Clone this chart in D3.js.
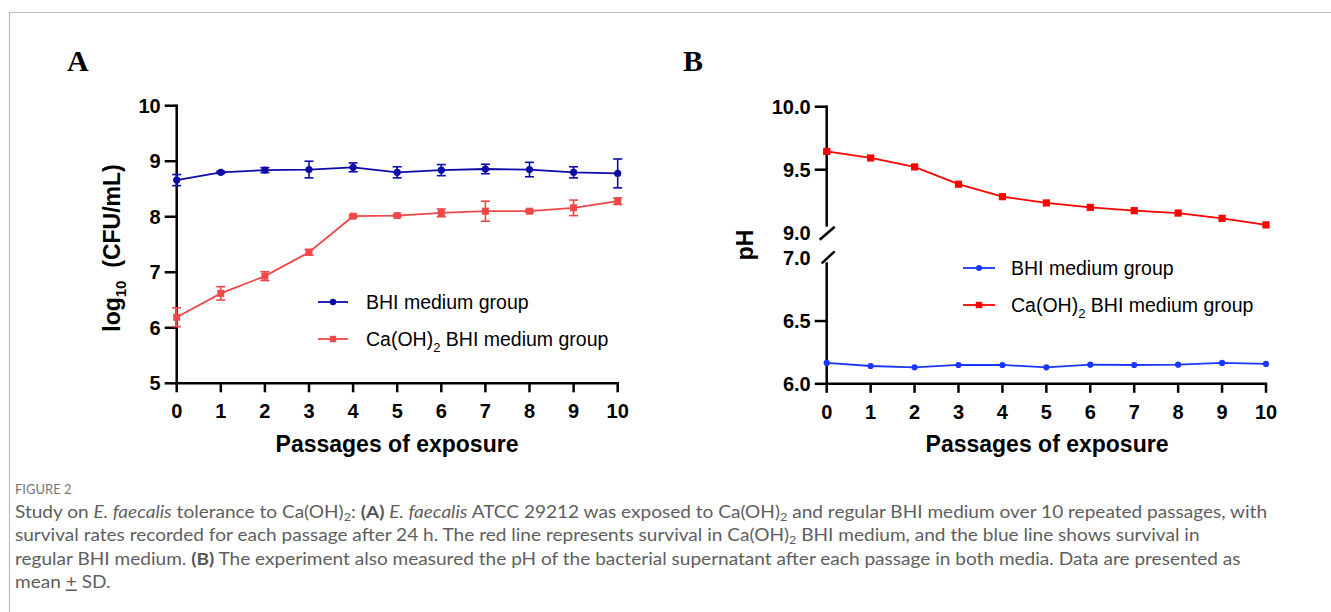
<!DOCTYPE html>
<html>
<head>
<meta charset="utf-8">
<script src="https://cdn.jsdelivr.net/npm/d3@7"></script>
<style>
  html, body { margin: 0; padding: 0; background: #fff; }
  svg { display: block; }
  .tick-label { font-family: "Liberation Sans", Arial, sans-serif; font-weight: bold; font-size: 20px; fill: #000; }
  .axis-title { font-family: "Liberation Sans", Arial, sans-serif; font-weight: bold; font-size: 23px; fill: #000; }
  .legend-text { font-family: "Liberation Sans", Arial, sans-serif; font-size: 19.5px; fill: #000; }
  .panel-title { font-family: "Liberation Serif", "Times New Roman", serif; font-weight: bold; font-size: 30px; fill: #000; }
  .caption { font-family: Lato, "Open Sans", sans-serif; font-size: 16.5px; fill: #5e5e5e; }
  .fig-label { font-family: Lato, "Open Sans", sans-serif; font-size: 13px; fill: #777; }
</style>
</head>
<body>
<svg id="chart" width="1331" height="612"></svg>
<script>
// ---------------- data ----------------
const passages = [0, 1, 2, 3, 4, 5, 6, 7, 8, 9, 10];
const xTickLabels = ["0", "1", "2", "3", "4", "5", "6", "7", "8", "9", "10"];

// Panel A: log10 CFU/mL (mean, SD)
const aBhiMean = [8.66, 8.80, 8.84, 8.85, 8.89, 8.80, 8.84, 8.86, 8.85, 8.80, 8.78];
const aBhiSD   = [0.10, 0.02, 0.045, 0.15, 0.08, 0.10, 0.10, 0.085, 0.13, 0.10, 0.26];
const aCaMean  = [6.19, 6.62, 6.93, 7.36, 8.01, 8.02, 8.07, 8.10, 8.10, 8.16, 8.28];
const aCaSD    = [0.17, 0.12, 0.08, 0.05, 0.02, 0.02, 0.07, 0.18, 0.02, 0.14, 0.06];
const aYTicks  = [5, 6, 7, 8, 9, 10];

// Panel B: pH
const bBhiPH = [6.166, 6.142, 6.131, 6.150, 6.150, 6.131, 6.152, 6.150, 6.152, 6.166, 6.158];
const bCaPH  = [9.645, 9.593, 9.522, 9.385, 9.286, 9.236, 9.201, 9.175, 9.156, 9.114, 9.062];
const bYTicksUpper = [9.0, 9.5, 10.0];
const bYTicksLower = [6.0, 6.5, 7.0];

const legendLabels = ["BHI medium group", "Ca(OH)2 BHI medium group"];

// caption (segments: text, style)
const figureLabel = "FIGURE 2";
const captionLines = [
  [["Study on ", ""], ["E. faecalis", "i"], [" tolerance to Ca(OH)", ""], ["2", "sub"], [": ", ""], ["(A)", "b"], [" ", ""], ["E. faecalis", "i"], [" ATCC 29212 was exposed to Ca(OH)", ""], ["2", "sub"], [" and regular BHI medium over 10 repeated passages, with", ""]],
  [["survival rates recorded for each passage after 24 h. The red line represents survival in Ca(OH)", ""], ["2", "sub"], [" BHI medium, and the blue line shows survival in", ""]],
  [["regular BHI medium. ", ""], ["(B)", "b"], [" The experiment also measured the pH of the bacterial supernatant after each passage in both media. Data are presented as", ""]],
  [["mean ", ""], ["+", "u"], [" SD.", ""]]
];

// ---------------- drawing ----------------
const svg = d3.select("#chart");

// frame
svg.append("path").attr("d", "M9.5,612 V12.5 H1331")
  .attr("fill", "none").attr("stroke", "#bdbdbd").attr("stroke-width", 1.2);

const colA = { bhi: "#0b0ba8", ca: "#f04848" };
const colB = { bhi: "#1a36ff", ca: "#ff0000" };

function drawXAxis(g, x, y0) {
  g.append("line").attr("x1", x(0) - 1.2).attr("x2", x(10) + 1.2)
    .attr("y1", y0).attr("y2", y0).attr("stroke", "#000").attr("stroke-width", 2.5);
  passages.forEach((p, i) => {
    g.append("line").attr("x1", x(p)).attr("x2", x(p)).attr("y1", y0).attr("y2", y0 + 9)
      .attr("stroke", "#000").attr("stroke-width", 2.5);
    g.append("text").attr("class", "tick-label").attr("x", x(p)).attr("y", y0 + 35)
      .attr("text-anchor", "middle").text(xTickLabels[i]);
  });
}

function yTick(g, x0, yy, label, drawTick) {
  if (drawTick) g.append("line").attr("x1", x0 - 12).attr("x2", x0).attr("y1", yy).attr("y2", yy)
    .attr("stroke", "#000").attr("stroke-width", 2.5);
  g.append("text").attr("class", "tick-label").attr("x", x0 - 16).attr("y", yy + 7)
    .attr("text-anchor", "end").text(label);
}

function drawSeries(g, x, y, vals, sds, color, shape, size) {
  const line = d3.line().x((d, i) => x(passages[i])).y(d => y(d));
  g.append("path").datum(vals).attr("d", line).attr("fill", "none")
    .attr("stroke", color).attr("stroke-width", 1.8);
  if (sds) {
    vals.forEach((v, i) => {
      const px = x(passages[i]);
      const t = y(v + sds[i]), b = y(v - sds[i]);
      g.append("line").attr("x1", px).attr("x2", px).attr("y1", t).attr("y2", b)
        .attr("stroke", color).attr("stroke-width", 1.6);
      [t, b].forEach(yy => g.append("line").attr("x1", px - 4.5).attr("x2", px + 4.5)
        .attr("y1", yy).attr("y2", yy).attr("stroke", color).attr("stroke-width", 1.6));
    });
  }
  vals.forEach((v, i) => marker(g, x(passages[i]), y(v), color, shape, size));
}

function marker(g, cx, cy, color, shape, size) {
  if (shape === "circle") {
    g.append("circle").attr("cx", cx).attr("cy", cy).attr("r", size).attr("fill", color);
  } else {
    g.append("rect").attr("x", cx - size).attr("y", cy - size)
      .attr("width", size * 2).attr("height", size * 2).attr("fill", color);
  }
}

function legendEntry(g, x1, x2, yy, color, shape, size, labelIdx, tx) {
  g.append("line").attr("x1", x1).attr("x2", x2).attr("y1", yy).attr("y2", yy)
    .attr("stroke", color).attr("stroke-width", 1.8);
  marker(g, (x1 + x2) / 2, yy, color, shape, size);
  const t = g.append("text").attr("class", "legend-text").attr("x", tx).attr("y", yy + 7);
  if (labelIdx === 1) {
    t.append("tspan").text("Ca(OH)");
    t.append("tspan").attr("font-size", "13px").attr("dy", 6).text("2");
    t.append("tspan").attr("dy", -6).text(" BHI medium group");
  } else {
    t.text(legendLabels[0]);
  }
}

// ---------- Panel A ----------
const gA = svg.append("g");
const xA = d3.scaleLinear().domain([0, 10]).range([176.7, 617.7]);
const yA = d3.scaleLinear().domain([5, 10]).range([383.3, 105.7]);

gA.append("text").attr("class", "panel-title").attr("x", 67).attr("y", 71).text("A");

gA.append("line").attr("x1", xA(0)).attr("x2", xA(0)).attr("y1", yA(10) - 1.2).attr("y2", yA(5))
  .attr("stroke", "#000").attr("stroke-width", 2.5);
aYTicks.forEach(v => yTick(gA, xA(0), yA(v), String(v), true));
drawXAxis(gA, xA, yA(5));

drawSeries(gA, xA, yA, aCaMean, aCaSD, colA.ca, "rect", 3.5);
drawSeries(gA, xA, yA, aBhiMean, aBhiSD, colA.bhi, "circle", 3.6);

legendEntry(gA, 318, 348, 302, colA.bhi, "circle", 3.2, 0, 366);
legendEntry(gA, 318, 348, 339, colA.ca, "rect", 3.2, 1, 366);

const ylabA = gA.append("text").attr("class", "axis-title")
  .attr("transform", "translate(120,248) rotate(-90)").attr("text-anchor", "middle");
ylabA.append("tspan").text("log");
ylabA.append("tspan").attr("font-size", "15px").attr("dy", 6).text("10");
ylabA.append("tspan").attr("dy", -6).text("\u00a0 (CFU/mL)");

gA.append("text").attr("class", "axis-title").attr("x", 397).attr("y", 452)
  .attr("text-anchor", "middle").text("Passages of exposure");

// ---------- Panel B ----------
const gB = svg.append("g");
const xB = d3.scaleLinear().domain([0, 10]).range([826.7, 1266]);
const yBu = d3.scaleLinear().domain([9, 10]).range([232.7, 106.7]);
const yBl = d3.scaleLinear().domain([6, 7]).range([383.8, 258.3]);

gB.append("text").attr("class", "panel-title").attr("x", 683).attr("y", 71).text("B");

// broken y-axis
gB.append("line").attr("x1", xB(0)).attr("x2", xB(0)).attr("y1", yBu(10) - 1.2).attr("y2", yBu(9) - 6)
  .attr("stroke", "#000").attr("stroke-width", 2.5);
gB.append("line").attr("x1", xB(0)).attr("x2", xB(0)).attr("y1", yBl(7) + 4).attr("y2", yBl(6))
  .attr("stroke", "#000").attr("stroke-width", 2.5);
// break marks
gB.append("line").attr("x1", xB(0) - 7).attr("x2", xB(0) + 8).attr("y1", yBu(9) + 7).attr("y2", yBu(9) - 6)
  .attr("stroke", "#000").attr("stroke-width", 2.5);
gB.append("line").attr("x1", xB(0) - 5).attr("x2", xB(0) + 8).attr("y1", yBl(7) + 5).attr("y2", yBl(7) - 7)
  .attr("stroke", "#000").attr("stroke-width", 2.5);

bYTicksUpper.forEach(v => yTick(gB, xB(0), yBu(v), v.toFixed(1), v !== 9));
bYTicksLower.forEach(v => yTick(gB, xB(0), yBl(v), v.toFixed(1), v !== 7));
drawXAxis(gB, xB, yBl(6));

drawSeries(gB, xB, yBu, bCaPH, null, colB.ca, "rect", 3.6);
drawSeries(gB, xB, yBl, bBhiPH, null, colB.bhi, "circle", 3.1);

legendEntry(gB, 963, 995, 268, colB.bhi, "circle", 3.0, 0, 1011);
legendEntry(gB, 963, 995, 305, colB.ca, "rect", 3.2, 1, 1011);

gB.append("text").attr("class", "axis-title")
  .attr("transform", "translate(753,245) rotate(-90)").attr("text-anchor", "middle").text("pH");

gB.append("text").attr("class", "axis-title").attr("x", 1047).attr("y", 452)
  .attr("text-anchor", "middle").text("Passages of exposure");

// ---------- Caption ----------
svg.append("text").attr("class", "fig-label").attr("x", 15).attr("y", 494).text(figureLabel);

const capG = svg.append("g");
const baselines = [518, 541.5, 565, 588.5];
const capTexts = captionLines.map((segs, li) => {
  const t = capG.append("text").attr("class", "caption").attr("x", 0).attr("y", baselines[li]);
  segs.forEach(([txt, st]) => {
    const s = t.append("tspan").text(txt);
    if (st === "i") s.attr("font-style", "italic");
    if (st === "b") s.attr("font-weight", "bold").attr("fill", "#555");
    if (st === "sub") { s.attr("font-size", "11px").attr("dy", 3); }
    if (st === "u") s.attr("text-decoration", "underline");
  });
  // reset dy after subscripts
  t.selectAll("tspan").each(function(d, i, nodes) {
    const prev = i > 0 ? d3.select(nodes[i - 1]) : null;
    if (prev && prev.attr("font-size") === "11px") d3.select(this).attr("dy", -3);
  });
  return t;
});
const w1 = capTexts[0].node().getComputedTextLength();
const k = 1253 / w1;
capG.attr("transform", `translate(15,0) scale(${k},1)`);
</script>
</body>
</html>
